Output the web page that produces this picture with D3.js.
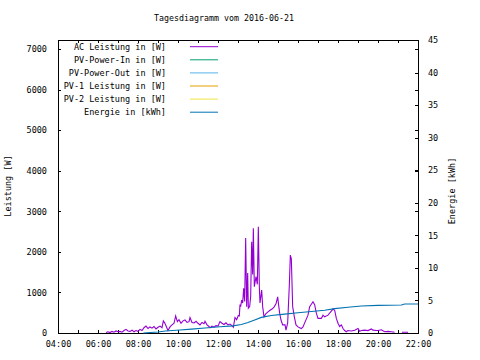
<!DOCTYPE html>
<html><head><meta charset="utf-8">
<script src="https://cdn.jsdelivr.net/npm/d3@7"></script>
<style>
body{margin:0;background:#fff;}
text{font-family:"DejaVu Sans Mono",monospace;font-size:8.5px;fill:#000;}
</style></head>
<body><svg id="c" width="480" height="360"></svg>
<script>
const title = "Tagesdiagramm vom 2016-06-21";
const xTickLabels = ["04:00","06:00","08:00","10:00","12:00","14:00","16:00","18:00","20:00","22:00"];
const yTicks = [0,1000,2000,3000,4000,5000,6000,7000];
const y2Ticks = [0,5,10,15,20,25,30,35,40,45];
const seriesNames = ["AC Leistung in [W]","PV-Power-In in [W]","PV-Power-Out in [W]","PV-1 Leistung in [W]","PV-2 Leistung in [W]","Energie in [kWh]"];
const seriesColors = ["#9400d3","#009e73","#56b4e9","#e69f00","#f0e442","#0072b2"];

const acTimes = ["06:24","06:30","06:36","06:42","06:48","06:54","07:00","07:06","07:12","07:18","07:24","07:30","07:36","07:42","07:48","07:54","08:00","08:06","08:12","08:18","08:24","08:30","08:36","08:42","08:48","08:54","09:00","09:06","09:12","09:16","09:20","09:24","09:30","09:36","09:42","09:48","09:53","09:58","10:03","10:09","10:15","10:21","10:27","10:33","10:36","10:42","10:48","10:54","11:00","11:06","11:12","11:18","11:21","11:27","11:33","11:36","11:42","11:48","11:54","12:00","12:06","12:12","12:18","12:24","12:30","12:36","12:42","12:46","12:51","12:56","13:01","13:04","13:06","13:08","13:11","13:14","13:17","13:20","13:23","13:26","13:29","13:31","13:35","13:38","13:41","13:44","13:46","13:49","13:54","13:58","14:01","14:04","14:06","14:11","14:14","14:18","14:24","14:30","14:36","14:42","14:48","14:54","14:59","15:02","15:05","15:09","15:14","15:21","15:24","15:29","15:34","15:37","15:40","15:44","15:49","15:54","16:00","16:05","16:10","16:15","16:20","16:30","16:35","16:40","16:45","16:50","16:55","17:00","17:10","17:15","17:20","17:30","17:40","17:45","17:50","17:55","18:00","18:05","18:10","18:15","18:20","18:25","18:30","18:40","18:50","19:00","19:05","19:10","19:20","19:30","19:40","19:45","19:55","20:00","20:10","20:20","20:30","20:40","20:50","20:55","21:12","21:30"];
const acValues = [10,30,10,40,20,50,30,40,20,60,90,50,40,70,30,60,40,90,60,130,170,110,150,120,160,100,140,170,130,300,250,180,60,150,200,240,420,280,330,240,300,320,260,280,380,260,250,290,240,200,260,230,290,200,160,130,170,150,180,170,280,240,210,250,200,220,180,140,380,330,430,420,700,650,810,740,1100,780,2340,650,1480,610,650,900,2250,1440,2580,1140,1390,1200,2620,1140,740,1060,650,400,480,520,560,590,640,720,890,680,490,320,200,200,70,250,1180,1920,1830,650,400,200,150,130,110,150,250,440,650,710,770,700,490,360,360,440,400,440,540,590,560,360,240,160,200,110,60,30,60,50,70,110,40,60,70,60,100,70,60,60,80,30,40,30,20,null,20,20];

const enTimes = ["08:16","09:00","09:22","10:06","10:40","11:21","12:06","12:45","13:10","13:30","13:50","14:10","14:40","15:20","16:00","16:40","17:20","17:50","18:30","19:10","20:00","21:10","21:20","22:00"];
const enValues = [0.0,0.15,0.3,0.45,0.6,0.77,0.97,1.1,1.3,1.6,2.0,2.4,2.7,2.9,3.1,3.3,3.5,3.75,3.95,4.15,4.25,4.3,4.45,4.45];

const toMin = s => { const [h,m] = s.split(":").map(Number); return h*60+m; };
const L=58,R=418,T=40,B=333;
const svg = d3.select("#c");
const x = d3.scaleLinear().domain([240,1320]).range([L,R]);
const y = d3.scaleLinear().domain([0,7225]).range([B,T]);
const y2 = d3.scaleLinear().domain([0,45]).range([B,T]);

svg.append("text").attr("x",224).attr("y",21).attr("text-anchor","middle").style("font-size","8.3px").text(title);

const hourTicks = d3.range(240,1321,60);
const fmt = m => { const i = xTickLabels.indexOf(String(Math.floor(m/60)).padStart(2,"0")+":00"); return i>=0 ? xTickLabels[i] : ""; };

svg.append("g").attr("transform",`translate(0,${B})`)
  .call(d3.axisBottom(x).tickValues(hourTicks).tickSize(-3).tickPadding(8).tickFormat(m => (m/60)%2===0 ? fmt(m) : ""));
svg.append("g").attr("transform",`translate(0,${T})`)
  .call(d3.axisTop(x).tickValues(hourTicks).tickSize(-3).tickFormat(""));
svg.append("g").attr("transform",`translate(${L},0)`)
  .call(d3.axisLeft(y).tickValues(yTicks).tickSize(-3).tickPadding(11).tickFormat(d3.format("d")));
svg.append("g").attr("transform",`translate(${R},0)`)
  .call(d3.axisRight(y).tickValues(yTicks).tickSize(-3).tickFormat(""));
svg.append("g").attr("transform",`translate(${R},0)`)
  .call(d3.axisRight(y2).tickValues(y2Ticks).tickSize(-3).tickPadding(10).tickFormat(d3.format("d")));
svg.selectAll(".domain").remove();
svg.selectAll(".tick line").attr("stroke","#000").attr("shape-rendering","crispEdges");
svg.selectAll(".tick text").style("font-family","'DejaVu Sans Mono',monospace").style("font-size","8.5px").attr("fill","#000");

svg.append("rect").attr("x",L+0.5).attr("y",T+0.5).attr("width",R-L).attr("height",B-T)
  .attr("fill","none").attr("stroke","#000").attr("stroke-width",1).attr("shape-rendering","crispEdges");

svg.append("text").attr("transform","translate(11,186) rotate(-90)").attr("text-anchor","middle").text("Leistung [W]");
svg.append("text").attr("transform","translate(455,191) rotate(-90)").attr("text-anchor","middle").text("Energie [kWh]");

const acData = acTimes.map((t,i)=>({t:toMin(t),v:acValues[i]}));
const enData = enTimes.map((t,i)=>({t:toMin(t),v:enValues[i]}));

svg.append("path").datum(acData)
  .attr("d", d3.line().defined(d=>d.v!==null).x(d=>x(d.t)).y(d=>y(d.v)))
  .attr("fill","none").attr("stroke",seriesColors[0]).attr("stroke-width",1.1);
svg.append("path").datum(enData)
  .attr("d", d3.line().x(d=>x(d.t)).y(d=>y2(d.v)))
  .attr("fill","none").attr("stroke",seriesColors[5]).attr("stroke-width",1.1);

const lg = svg.append("g");
seriesNames.forEach((n,i)=>{
  const yy = 46.7 + i*13.1;
  lg.append("text").attr("x",166).attr("y",yy+3).attr("text-anchor","end").text(n);
  lg.append("line").attr("x1",190).attr("x2",218).attr("y1",yy).attr("y2",yy)
    .attr("stroke",seriesColors[i]).attr("stroke-width",1);
});
</script></body></html>
